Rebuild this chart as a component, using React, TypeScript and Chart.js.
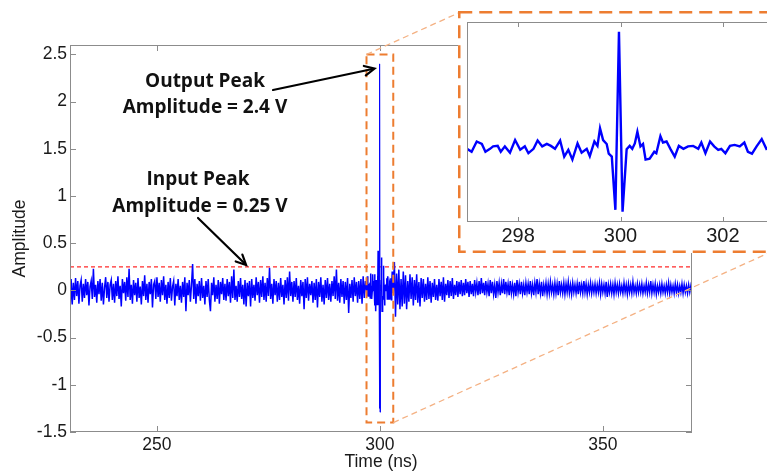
import React, { useEffect, useRef } from 'react';
import { Chart, registerables } from 'chart.js';

Chart.register(...registerables);

// ---------- axes ----------
const X_MIN = 230.5;
const X_MAX = 370;
const Y_MIN = -1.5;
const Y_MAX = 2.6;
const mainXTicks = [250, 300, 350];
const mainYTicks = [-1.5, -1, -0.5, 0, 0.5, 1, 1.5, 2, 2.5];
const insetXTicks = [298, 300, 302];
const insetXRange = [297, 303];

// ---------- data ----------
const SAMPLE_STEP = 0.25; // ns between samples of the coarse trace
const preStart = 230.5;
const preValues = [
  -0.24, 0.12, -0.15, 0.08, -0.1, 0.13, -0.06, 0.1, -0.14, 0.05, 0.11, -0.12, 0.07, -0.08, 0.12, -0.05, 0.09, -0.16, 0.04, 0.1,
  -0.09, 0.23, -0.07, 0.06, -0.13, 0.1, -0.04, 0.12, -0.11, 0.08, -0.15, 0.03, 0.14, -0.08, 0.09, -0.12, 0.06, 0.11, -0.1, 0.07,
  -0.13, 0.1, -0.06, 0.15, -0.09, 0.05, -0.17, 0.12, -0.03, 0.09, -0.11, 0.14, -0.07, 0.23, -0.1, 0.06, -0.14, 0.11, -0.05, 0.08,
  -0.12, 0.13, -0.08, 0.04, -0.15, 0.1, -0.06, 0.16, -0.1, 0.07, -0.13, 0.09, -0.04, 0.12, -0.18, 0.06, 0.1, -0.09, 0.14, -0.07,
  0.08, -0.12, 0.11, -0.05, 0.15, -0.1, 0.06, -0.14, 0.09, -0.08, 0.13, -0.11, 0.04, 0.1, -0.16, 0.07, -0.06, 0.12, -0.1, 0.05,
  -0.13, 0.09, -0.07, 0.14, -0.22, 0.08, -0.05, 0.11, -0.12, 0.06, 0.28, -0.09, 0.12, -0.14, 0.07, -0.06, 0.1, -0.11, 0.13, -0.08,
  0.05, -0.15, 0.1, -0.07, 0.12, -0.1, -0.22, 0.08, -0.05, 0.14, -0.12, 0.06, -0.09, 0.11, -0.14, 0.09, -0.04, 0.13, -0.1, 0.07,
  -0.11, 0.12, -0.06, 0.09, -0.13, 0.15, -0.08, 0.22, -0.1, 0.05, -0.12, 0.1, -0.07, 0.13, -0.09, 0.06, -0.15, 0.11, -0.17, 0.08,
  -0.06, 0.1, -0.17, 0.12, -0.08, 0.06, -0.11, 0.14, -0.05, 0.09, -0.13, 0.11, -0.07, 0.15, -0.1, 0.08, -0.12, 0.13, -0.06, 0.24,
  -0.09, 0.07, -0.14, 0.12, -0.05, 0.1, -0.12, 0.08, -0.1, 0.13, -0.07, 0.06, -0.15, 0.11, -0.08, 0.14, -0.11, 0.2, -0.06, 0.09,
  -0.12, 0.1, -0.07, 0.13, -0.1, 0.05, -0.14, 0.11, -0.06, 0.09, -0.2, 0.12, -0.08, 0.14, -0.11, 0.07, -0.05, 0.1, -0.13, 0.08,
  -0.1, 0.12, -0.18, 0.09, -0.07, 0.14, -0.12, 0.06, -0.15, 0.11, -0.08, 0.13, -0.1, 0.07, -0.12, 0.1, -0.06, 0.15, -0.09, 0.22,
  -0.11, 0.08, -0.13, 0.12, -0.07, 0.1, -0.14, 0.09, -0.1, 0.13, -0.24, 0.07, -0.08, 0.11, -0.12, 0.14, -0.06, 0.09, -0.13, 0.1,
  -0.09, 0.12, -0.14, 0.15, -0.08, 0.1,
];
const postStart = 303.25;
const postValues = [
  0.3, -0.28, 0.18, -0.15, 0.22, -0.2, 0.12, -0.17, 0.2, -0.14, 0.16, -0.2, 0.1, -0.12, 0.17, -0.09, 0.14, -0.16, 0.11, -0.1,
  0.17, -0.13, 0.09, -0.17, 0.13, -0.08, 0.12, -0.12, 0.07, -0.1, 0.14, -0.09, 0.1, -0.13, 0.08, -0.07, 0.12, -0.1, 0.06, -0.11,
  0.12, -0.06, 0.09, -0.1, 0.14, -0.12, 0.07, -0.05, 0.11, -0.08, 0.1, -0.06, 0.13, -0.09, 0.06, -0.05, 0.1, -0.07, 0.09, -0.04,
  0.11, -0.06, 0.08, -0.05, 0.12, -0.03, 0.09, -0.07, 0.1, -0.04, 0.07, -0.06, 0.11, -0.02, 0.08, -0.05, 0.1, -0.04, 0.13, -0.03,
  0.08, -0.05, 0.1, -0.02, 0.07, -0.06, 0.11, -0.03, 0.09, -0.04, 0.06, -0.08, 0.1, -0.02, 0.08, -0.05, 0.07, -0.03, 0.12, -0.04,
  0.09, -0.02, 0.07, -0.05, 0.1, -0.03, 0.06, -0.04, 0.08, -0.06, 0.11, -0.02, 0.07, -0.04, 0.09, -0.03, 0.06, -0.05, 0.08, -0.02,
  0.07, -0.04, 0.1, -0.03, 0.06, -0.05, 0.08, -0.02, 0.12, -0.04, 0.07, -0.03, 0.09, -0.06, 0.06, -0.02, 0.08, -0.04, 0.07, -0.03,
  0.09, -0.02, 0.06, -0.04, 0.08, -0.03, 0.07, -0.05, 0.1, -0.02, 0.06, -0.03, 0.08, -0.04, 0.07, -0.02, 0.09, -0.03, 0.06, -0.04,
  0.08, -0.02, 0.06, -0.03, 0.07, -0.04, 0.09, -0.02, 0.06, -0.03, 0.1, -0.02, 0.07, -0.04, 0.06, -0.02, 0.08, -0.03, 0.06, -0.02,
  0.07, -0.03, 0.06, -0.02, 0.08, -0.04, 0.07, -0.02, 0.06, -0.03, 0.09, -0.07, 0.06, -0.02, 0.07, -0.03, 0.06, -0.04, 0.08, -0.02,
  0.06, -0.03, 0.07, -0.02, 0.05, -0.03, 0.08, -0.02, 0.06, -0.04, 0.07, -0.02, 0.06, -0.03, 0.09, -0.02, 0.05, -0.03, 0.07, -0.02,
  0.06, -0.02, 0.07, -0.03, 0.05, -0.02, 0.08, -0.03, 0.06, -0.02, 0.1, -0.03, 0.06, -0.02, 0.07, -0.04, 0.05, -0.02, 0.06, -0.03,
  0.07, -0.02, 0.05, -0.03, 0.06, -0.02, 0.08, -0.03, 0.06, -0.02, 0.05, -0.03, 0.07, -0.02, 0.06, -0.03, 0.05, -0.02, 0.07, -0.03,
  0.06, -0.02, 0.05, -0.03, 0.06, -0.02, 0.05, -0.01,
];
// fine-resolution samples around the pulse (shown in the inset)
const insetTimes = [
  297.0, 297.09, 297.19, 297.29, 297.36, 297.45, 297.51, 297.6, 297.66, 297.74, 297.84, 297.94,
  298.04, 298.13, 298.2, 298.3, 298.38, 298.47, 298.56, 298.64, 298.72, 298.82, 298.9, 298.98,
  299.06, 299.16, 299.24, 299.34, 299.4, 299.49, 299.55, 299.6, 299.66, 299.73, 299.77, 299.83,
  299.9, 299.97, 300.04, 300.12, 300.18, 300.23, 300.28, 300.33, 300.39, 300.44, 300.49, 300.57,
  300.66, 300.7, 300.78, 300.83, 300.9, 300.98, 301.06, 301.14, 301.23, 301.32, 301.42, 301.52,
  301.58, 301.66, 301.75, 301.83, 301.91, 301.97, 302.05, 302.14, 302.23, 302.33, 302.42, 302.49,
  302.57, 302.66, 302.76, 302.85, 302.93, 303.0,
];
const insetValues = [
  0.0, -0.06, 0.15, 0.1, -0.06, 0, 0.05, 0.06, -0.06, 0.05, -0.08, 0.18,
  -0.02, 0.05, -0.09, 0, 0.17, 0.05, 0.1, 0.06, 0, 0.17, -0.16, -0.02,
  -0.22, 0.11, -0.08, 0, -0.15, 0.15, 0.06, 0.42, 0.18, 0.1, -0.1, -0.16,
  -1.25, 2.4, -1.29, -0.01, 0.06, 0, 0.11, 0.35, 0.05, 0.1, -0.22, -0.2,
  -0.06, -0.09, 0.26, 0.13, 0.15, -0.01, -0.16, 0.06, 0, 0.05, 0.06, 0,
  0.13, -0.09, 0.15, 0.05, -0.02, 0, -0.09, 0.06, 0.08, 0.05, 0.13, -0.06,
  -0.1, 0.05, 0.2, 0, 0.05, -0.03,
];
const inputPeak = 0.25;
const outputPeakPoint = [298.8, 2.35];
const inputPeakPoint = [270, 0.27];
const zoomBoxY = [-1.4, 2.5];

// ---------- layout ----------
const W = 767;
const H = 471;
const INSET = { left: 458, top: 11, width: 326, height: 242 };
const ORANGE = '#ED7D31';
const ORANGE_LIGHT = '#F4B183';
const FRAME = '#8c8c8c';
const TEXT = '#1a1a1a';
const TICK_FONT = '"Liberation Sans", Arial, sans-serif';
const NOTE_FONT = 'bold 19px "Open Sans", sans-serif';

function drawArrow(ctx: CanvasRenderingContext2D, x0: number, y0: number, x1: number, y1: number) {
  const a = Math.atan2(y1 - y0, x1 - x0);
  const L = 11;
  const w = 0.45;
  ctx.beginPath();
  ctx.moveTo(x0, y0);
  ctx.lineTo(x1 - Math.cos(a) * 2, y1 - Math.sin(a) * 2);
  ctx.stroke();
  ctx.beginPath();
  ctx.moveTo(x1 - L * Math.cos(a - w), y1 - L * Math.sin(a - w));
  ctx.lineTo(x1, y1);
  ctx.lineTo(x1 - L * Math.cos(a + w), y1 - L * Math.sin(a + w));
  ctx.stroke();
}

const mainDecor = {
  id: 'mainDecor',
  afterDraw(chart: any) {
    const { ctx, chartArea, scales } = chart;
    const { left, right, top, bottom } = chartArea;
    const xs = scales.x;
    const ys = scales.y;
    ctx.save();
    ctx.setLineDash([]);
    ctx.strokeStyle = FRAME;
    ctx.lineWidth = 1;
    ctx.strokeRect(left + 0.5, top + 0.5, right - left - 1, bottom - top - 1);
    ctx.beginPath();
    for (const v of mainXTicks) {
      const px = Math.round(xs.getPixelForValue(v)) + 0.5;
      ctx.moveTo(px, bottom);
      ctx.lineTo(px, bottom - 6);
      ctx.moveTo(px, top);
      ctx.lineTo(px, top + 6);
    }
    for (const v of mainYTicks) {
      const py = Math.round(ys.getPixelForValue(v)) + 0.5;
      ctx.moveTo(left, py);
      ctx.lineTo(left + 6, py);
      ctx.moveTo(right, py);
      ctx.lineTo(right - 6, py);
    }
    ctx.stroke();

    // connector lines from the zoom box to the inset
    ctx.strokeStyle = ORANGE_LIGHT;
    ctx.lineWidth = 1.3;
    ctx.setLineDash([6, 4]);
    ctx.beginPath();
    ctx.moveTo(xs.getPixelForValue(insetXRange[0]), ys.getPixelForValue(zoomBoxY[1]));
    ctx.lineTo(INSET.left + 1.5, INSET.top + 1.5);
    ctx.moveTo(xs.getPixelForValue(insetXRange[1]), ys.getPixelForValue(zoomBoxY[0]));
    ctx.lineTo(772, INSET.top + INSET.height - 1.5);
    ctx.stroke();

    // annotations
    ctx.setLineDash([]);
    ctx.fillStyle = '#111';
    ctx.font = NOTE_FONT;
    ctx.textAlign = 'center';
    ctx.textBaseline = 'alphabetic';
    ctx.fillText('Output Peak', 205, 87);
    ctx.fillText('Amplitude = 2.4 V', 205, 113);
    ctx.fillText('Input Peak', 198, 185);
    ctx.fillText('Amplitude = 0.25 V', 200, 212);

    ctx.strokeStyle = '#000';
    ctx.lineWidth = 2.2;
    ctx.lineCap = 'round';
    drawArrow(ctx, 273, 90, xs.getPixelForValue(outputPeakPoint[0]), ys.getPixelForValue(outputPeakPoint[1]));
    drawArrow(ctx, 198, 218, xs.getPixelForValue(inputPeakPoint[0]), ys.getPixelForValue(inputPeakPoint[1]));
    ctx.restore();
  },
};

const insetDecor = {
  id: 'insetDecor',
  afterDraw(chart: any) {
    const { ctx, chartArea, scales, width, height } = chart;
    const { left, right, top, bottom } = chartArea;
    const xs = scales.x;
    ctx.save();
    ctx.setLineDash([]);
    ctx.strokeStyle = FRAME;
    ctx.lineWidth = 1;
    ctx.strokeRect(left + 0.5, top + 0.5, right - left - 1, bottom - top - 1);
    ctx.beginPath();
    for (const v of insetXTicks) {
      const px = Math.round(xs.getPixelForValue(v)) + 0.5;
      ctx.moveTo(px, bottom);
      ctx.lineTo(px, bottom - 5);
      ctx.moveTo(px, top);
      ctx.lineTo(px, top + 5);
    }
    ctx.stroke();
    ctx.strokeStyle = ORANGE;
    ctx.lineWidth = 2.5;
    ctx.setLineDash([13, 7]);
    ctx.strokeRect(1.25, 1.25, width - 2.5, height - 2.5);
    ctx.restore();
  },
};

export default function App() {
  const mainRef = useRef<HTMLCanvasElement>(null);
  const insetRef = useRef<HTMLCanvasElement>(null);

  useEffect(() => {
    const mainPoints = [
      ...preValues.map((v, i) => ({ x: preStart + i * SAMPLE_STEP, y: v })),
      ...insetTimes.map((t, i) => ({ x: t, y: insetValues[i] })),
      ...postValues.map((v, i) => ({ x: postStart + i * SAMPLE_STEP, y: v })),
    ];
    const insetPoints = insetTimes.map((t, i) => ({ x: t, y: insetValues[i] }));
    const boxPoints = [
      { x: insetXRange[0], y: zoomBoxY[1] },
      { x: insetXRange[1], y: zoomBoxY[1] },
      { x: insetXRange[1], y: zoomBoxY[0] },
      { x: insetXRange[0], y: zoomBoxY[0] },
      { x: insetXRange[0], y: zoomBoxY[1] },
    ];

    const main = new Chart(mainRef.current as HTMLCanvasElement, {
      type: 'line',
      data: {
        datasets: [
          {
            label: 'signal', data: mainPoints, borderColor: '#0000ff', borderWidth: 1.5, pointRadius: 0, tension: 0, order: 1,
            segment: { borderWidth: (c: any) => (Math.abs(c.p1.parsed.y - c.p0.parsed.y) > 0.8 ? 1 : 1.5) },
          } as any,
          {
            label: 'input peak',
            data: [{ x: X_MIN, y: inputPeak }, { x: X_MAX, y: inputPeak }],
            borderColor: '#ff2a2a', borderWidth: 1.3, borderDash: [4, 3], pointRadius: 0, order: 2,
          } as any,
          { label: 'zoom', data: boxPoints, borderColor: ORANGE, borderWidth: 2, borderDash: [8, 5], pointRadius: 0, order: 0 } as any,
        ],
      },
      options: {
        responsive: false,
        animation: false,
        devicePixelRatio: 1,
        events: [],
        layout: { padding: { left: 0, top: 45, right: 75, bottom: 0 } },
        plugins: { legend: { display: false }, tooltip: { enabled: false } },
        scales: {
          x: {
            type: 'linear', min: X_MIN, max: X_MAX,
            afterBuildTicks: (s: any) => { s.ticks = mainXTicks.map((v) => ({ value: v })); },
            afterFit: (s: any) => { s.height = 39; },
            grid: { display: false, drawTicks: false },
            border: { display: false },
            ticks: { font: { family: TICK_FONT, size: 17.5 }, color: TEXT, padding: 3, maxRotation: 0, autoSkip: false, callback: (v: any) => String(v) },
            title: { display: true, text: 'Time (ns)', font: { family: TICK_FONT, size: 17.5, lineHeight: 1 }, color: TEXT, padding: { top: 0, bottom: 0 } },
          },
          y: {
            type: 'linear', min: Y_MIN, max: Y_MAX,
            afterBuildTicks: (s: any) => { s.ticks = mainYTicks.map((v) => ({ value: v })); },
            afterFit: (s: any) => { s.width = 70; },
            grid: { display: false, drawTicks: false },
            border: { display: false },
            ticks: { font: { family: TICK_FONT, size: 17.5 }, color: TEXT, padding: 3, autoSkip: false, callback: (v: any) => String(v) },
            title: { display: true, text: 'Amplitude', font: { family: TICK_FONT, size: 17.5, lineHeight: 1 }, color: TEXT, padding: { top: 11, bottom: 0 } },
          },
        },
      } as any,
      plugins: [mainDecor],
    });

    const inset = new Chart(insetRef.current as HTMLCanvasElement, {
      type: 'line',
      data: {
        datasets: [
          { label: 'zoom', data: insetPoints, borderColor: '#0000ff', borderWidth: 2.4, pointRadius: 0, tension: 0 } as any,
        ],
      },
      options: {
        responsive: false,
        animation: false,
        devicePixelRatio: 1,
        events: [],
        layout: { padding: { left: 9, top: 11, right: 10, bottom: 0 } },
        plugins: { legend: { display: false }, tooltip: { enabled: false } },
        scales: {
          x: {
            type: 'linear', min: insetXRange[0], max: insetXRange[1],
            afterBuildTicks: (s: any) => { s.ticks = insetXTicks.map((v) => ({ value: v })); },
            afterFit: (s: any) => { s.height = 31; },
            grid: { display: false, drawTicks: false },
            border: { display: false },
            ticks: { font: { family: TICK_FONT, size: 20 }, color: TEXT, padding: 2, maxRotation: 0, autoSkip: false, callback: (v: any) => String(v) },
          },
          y: { type: 'linear', min: Y_MIN, max: Y_MAX, display: false },
        },
      } as any,
      plugins: [insetDecor],
    });

    return () => {
      main.destroy();
      inset.destroy();
    };
  }, []);

  return (
    <div style={{ position: 'absolute', left: 0, top: 0, width: W, height: H, overflow: 'hidden', background: '#fff' }}>
      <canvas ref={mainRef} width={W} height={H} style={{ position: 'absolute', left: 0, top: 0, width: W, height: H }} />
      <canvas
        ref={insetRef}
        width={INSET.width}
        height={INSET.height}
        style={{ position: 'absolute', left: INSET.left, top: INSET.top, width: INSET.width, height: INSET.height, background: '#fff' }}
      />
    </div>
  );
}
